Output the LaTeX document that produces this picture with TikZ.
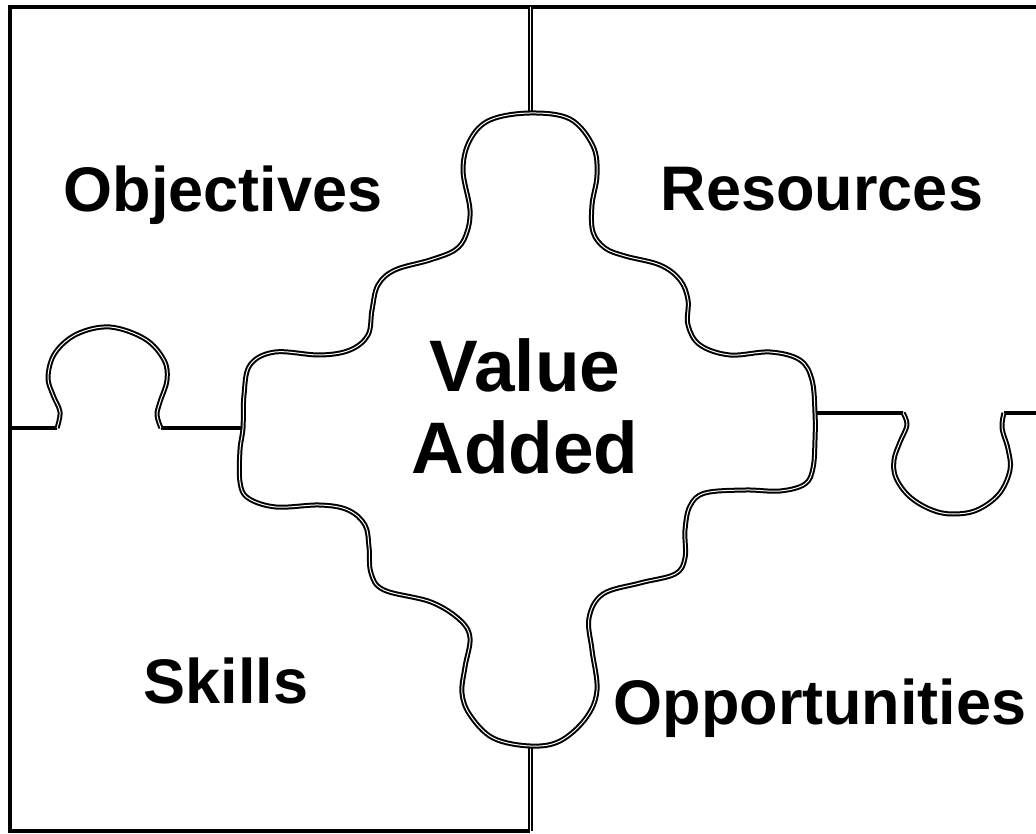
\documentclass[tikz,border=0pt]{standalone}
\usepackage{fontspec}
\setmainfont{Liberation Sans}

\begin{document}
\begin{tikzpicture}[x=1pt, y=-1pt,
    frame/.style = {line width=3.5pt},
    piece/.style = {double, line width=2pt, double distance=1pt, line join=round},
    word/.style = {anchor=base, font=\fontsize{63}{76}\selectfont\bfseries},
    centre/.style = {anchor=base, font=\fontsize{73}{88}\selectfont\bfseries}]
    \useasboundingbox (0,0) rectangle (1036,834);

    % outer frame
    \draw[frame] (1036,7) -- (10,7) -- (10,831) -- (530,831);

    % straight joins
    \draw[piece] (530,7) -- (530,113);
    \draw[piece] (530,746) -- (530,831);
    \draw[frame] (10,428) -- (57,428);
    \draw[frame] (161,428) -- (245,428);
    \draw[frame] (815,413) -- (903,413);
    \draw[frame] (1004,413) -- (1036,413);

    % left knob
    \draw[piece] plot[smooth, tension=0.6] coordinates {(57,428) (60,412) (53,395) (48,377) (55,353) (77,334) (110,327) (145,339) (164,360) (167,380) (160,402) (157,415) (161,428)};

    % right socket
    \draw[piece] plot[smooth, tension=0.6] coordinates {(903,413) (907,425) (900,442) (894,460) (896,478) (910,497) (932,510) (953,514) (977,510) (999,494) (1010,470) (1008,449) (1002,428) (1004,413)};

    % middle piece
    \draw[piece] plot[smooth cycle, tension=0.6] coordinates {
        (530,113) (570,119) (593,146) (597,175) (592,205) (593,232) (605,248)
        (625,256) (660,265) (680,280) (688,300) (688,325) (700,345) (730,355)
        (770,352) (800,360) (812,380) (815,413) (815,440) (813,468) (805,484)
        (780,491) (745,490) (705,493) (690,506) (685,530) (685,558) (675,574)
        (640,583) (603,594) (589,618) (592,650) (597,690) (586,718) (560,741)
        (530,746) (493,738) (470,715) (462,693) (465,667) (470,638) (460,620)
        (431,602) (384,590) (371,573) (369,547) (365,525) (348,510) (320,505)
        (276,507) (248,498) (240,482) (240,450) (243,428) (244,395) (250,365)
        (275,352) (320,355) (350,350) (368,335) (372,310) (378,285) (395,270)
        (430,260) (455,250) (466,235) (470,210) (463,170) (470,140) (490,120)};

    \node[word] (objectives) at (223,212) {Objectives};
    \node[word] (resources) at (822,211) {Resources};
    \node[word] (skills) at (226,703) {Skills};
    \node[word] (opportunities) at (820,724) {Opportunities};
    \node[centre] (value) at (525,391) {Value};
    \node[centre] (added) at (525,473) {Added};

\end{tikzpicture}
\end{document}
